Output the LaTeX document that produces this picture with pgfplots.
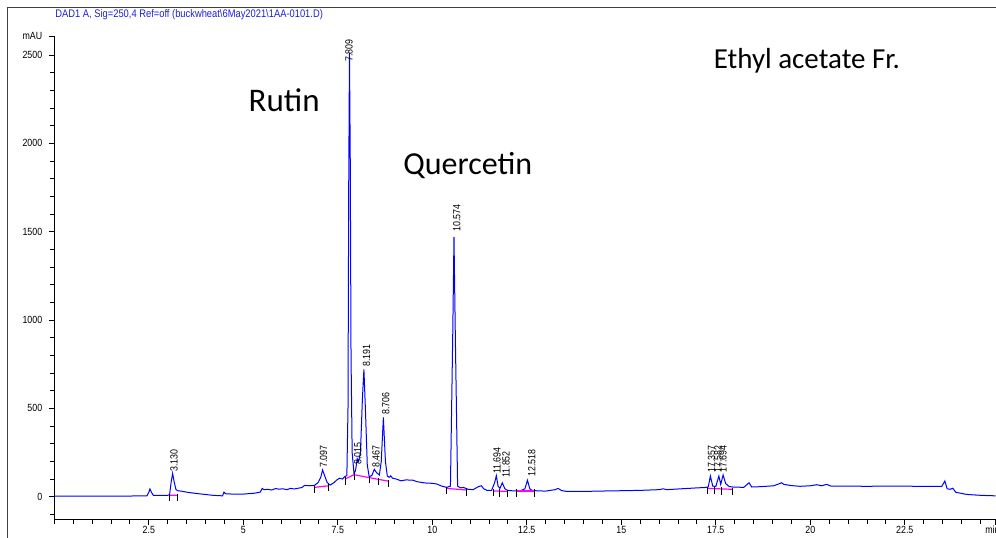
\documentclass[border=0pt]{standalone}
\usepackage{fontspec}
\setmainfont{Liberation Sans}
\newfontfamily\narrow[FakeStretch=0.85]{Liberation Sans}
\newfontfamily\calib{Carlito}
\usepackage{pgfplots}
\pgfplotsset{compat=1.18}
\definecolor{trace}{RGB}{0,0,255}
\definecolor{intbase}{RGB}{255,0,255}
\definecolor{hdr}{RGB}{30,30,220}
\newcommand{\tk}{\narrow\fontsize{5.2}{6}\selectfont}

\begin{document}
\begin{tikzpicture}
\begin{axis}[
  scale only axis, width=470.6pt, height=241.85pt,
  xmin=0, xmax=24.9, ymin=-130, ymax=2607,
  axis x line=bottom, axis y line=left,
  axis line style={-, black, line width=0.4pt},
  tick align=outside,
  xtick={2.5,5,...,22.5},
  minor xtick={0,0.5,...,24.5},
  ytick={0,500,...,2500},
  minor ytick={-100,0,...,2500},
  major tick length=2.5pt, minor tick length=2pt,
  tick style={black, line width=0.4pt},
  ticklabel style={font=\tk},
  xticklabel style={inner sep=0.6pt},
  /pgf/number format/assume math mode=true,
  /pgf/number format/1000 sep={},
  scaled y ticks=false,
  extra y ticks={2607}, extra y tick labels={mAU},
  extra x ticks={24.9}, extra x tick labels={min},
  extra x tick style={xticklabel style={xshift=-1.5pt}},
]
% chromatogram trace
\addplot[trace, line width=0.5pt] table {
t v
0.0 3
1.0 3
2.0 4
2.45 5
2.50 25
2.53 44
2.57 25
2.62 8
3.0 8
3.05 12
3.09 80
3.13 132
3.17 85
3.22 40
3.28 33
3.35 32
3.5 26
3.7 20
3.9 15
4.2 8
4.45 5
4.49 26
4.53 17
4.7 15
5.0 15
5.3 20
5.45 26
5.50 47
5.55 40
5.65 42
5.75 38
5.85 46
5.95 43
6.05 45
6.15 40
6.25 47
6.35 44
6.45 48
6.55 52
6.62 64
6.75 62
6.88 64
6.98 80
7.05 110
7.097 151
7.15 120
7.22 80
7.30 66
7.40 80
7.48 96
7.55 105
7.62 100
7.68 113
7.74 120
7.77 500
7.79 1800
7.809 2510
7.83 1900
7.85 800
7.88 250
7.93 128
7.97 150
8.015 215
8.05 200
8.10 250
8.15 550
8.191 721
8.23 500
8.28 180
8.33 113
8.40 120
8.467 155
8.53 135
8.60 123
8.65 200
8.706 449
8.76 200
8.81 117
8.86 110
8.90 118
8.95 105
9.05 100
9.17 90
9.3 95
9.48 94
9.6 85
9.8 78
10.0 76
10.12 72
10.25 60
10.38 53
10.48 60
10.54 900
10.574 1471
10.61 900
10.67 60
10.75 50
10.82 53
10.95 42
11.08 40
11.22 57
11.30 62
11.36 45
11.45 36
11.57 36
11.65 80
11.694 119
11.74 60
11.79 47
11.852 79
11.92 45
11.99 36
12.15 33
12.32 32
12.45 45
12.518 93
12.58 45
12.64 36
12.8 33
13.0 32
13.25 40
13.33 47
13.42 35
13.55 30
14.0 30
14.44 32
15.0 34
15.5 36
16.0 40
16.11 45
16.2 40
16.6 45
17.0 50
17.2 52
17.30 55
17.357 117
17.42 60
17.50 58
17.582 117
17.63 70
17.694 123
17.76 75
17.85 58
17.95 55
18.24 53
18.38 79
18.45 55
18.7 57
19.03 62
19.2 75
19.24 79
19.3 70
19.5 63
19.73 59
20.0 62
20.17 68
20.3 62
20.43 70
20.55 60
21.0 60
21.49 59
22.0 60
23.0 59
23.48 59
23.56 89
23.62 45
23.70 42
23.77 48
23.85 25
24.14 13
24.5 8
24.9 5
};
% integration baselines
\addplot[intbase, line width=0.6pt] coordinates {(3.04,8) (3.25,9)};
\addplot[intbase, line width=0.6pt] coordinates {(6.88,53) (7.26,62)};
\addplot[intbase, line width=0.6pt] coordinates {(7.69,100) (7.93,125) (8.33,108) (8.84,88)};
\addplot[intbase, line width=0.6pt] coordinates {(10.38,47) (10.91,38)};
\addplot[intbase, line width=0.6pt] coordinates {(11.62,33) (12.0,30)};
\addplot[intbase, line width=0.6pt] coordinates {(12.22,32) (12.70,32)};
\addplot[intbase, line width=0.6pt] coordinates {(17.29,47) (17.95,42)};
% integration start/stop marks
\addplot[only marks, mark=|, mark size=1.8pt, mark options={black, line width=0.4pt, yshift=-1pt}] coordinates {
(3.04,8) (3.25,9) (6.88,53) (7.26,62) (7.69,100) (7.93,125) (8.33,108) (8.58,98) (8.84,88)
(10.38,47) (10.91,38) (11.62,33) (11.78,32) (12.0,30) (12.22,32) (12.70,32)
(17.29,47) (17.47,45) (17.65,44) (17.95,42)
};
% peak retention times
\begin{scope}[every node/.style={rotate=90, anchor=west, inner sep=0pt, font=\tk}]
\node at (axis cs:3.17,140) {3.130};
\node at (axis cs:7.12,162) {7.097};
\node at (axis cs:7.80,2459) {7.809};
\node at (axis cs:8.03,179) {8.015};
\node at (axis cs:8.26,734) {8.191};
\node at (axis cs:8.51,162) {8.467};
\node at (axis cs:8.77,462) {8.706};
\node at (axis cs:10.65,1497) {10.574};
\node at (axis cs:11.71,128) {11.694};
\node at (axis cs:11.95,106) {11.852};
\node at (axis cs:12.63,111) {12.518};
\node at (axis cs:17.39,134) {17.357};
\node at (axis cs:17.56,134) {17.582};
\node at (axis cs:17.69,134) {17.694};
\end{scope}
\node[font=\calib\fontsize{16.5}{18}\selectfont] at (axis cs:6.08,2245) {Rutin};
\node[font=\calib\fontsize{16}{18}\selectfont] at (axis cs:10.94,1872) {Quercetin};
\node[font=\calib\fontsize{14.5}{16}\selectfont] at (axis cs:19.91,2466) {Ethyl acetate Fr.};
\end{axis}
\node[anchor=west, inner sep=0pt, text=hdr, font=\narrow\fontsize{5.5}{6.5}\selectfont]
  at ([xshift=0.35pt,yshift=10.5pt]current axis.north west)
  {DAD1 A, Sig=250,4 Ref=off (buckwheat\textbackslash 6May2021\textbackslash 1AA-0101.D)};
\draw[line width=0.5pt, black!75]
  ([xshift=-23.65pt,yshift=-10pt]current axis.south west) --
  ([xshift=-23.65pt,yshift=14pt]current axis.north west) --
  ([xshift=5pt,yshift=14pt]current axis.north east);
\pgfresetboundingbox
\path[use as bounding box] ([xshift=-27.15pt,yshift=-8.65pt]current axis.south west)
  rectangle ([xshift=0.25pt,yshift=18pt]current axis.north east);
\end{tikzpicture}
\end{document}
